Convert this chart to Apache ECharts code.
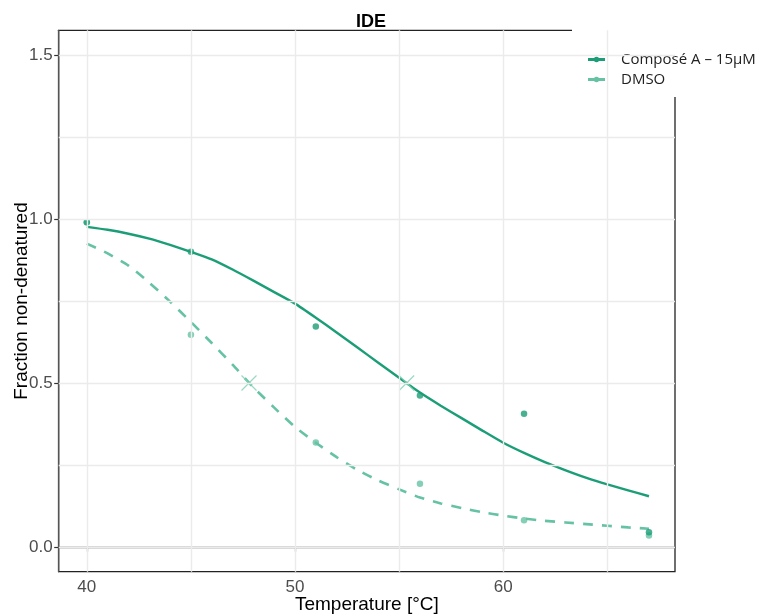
<!DOCTYPE html>
<html>
<head>
<meta charset="utf-8">
<script src="https://cdn.jsdelivr.net/npm/echarts@6/dist/echarts.min.js"></script>
<style>
html,body{margin:0;padding:0;background:#fff;}
#chart{width:759px;height:614px;}
</style>
</head>
<body>
<div id="chart"></div>
<script>
// Measured data points
const pointTemps = [40, 45, 51, 56, 61, 67];
const composeA = [0.99, 0.90, 0.672, 0.462, 0.406, 0.045];
const dmso = [0.99, 0.647, 0.319, 0.193, 0.082, 0.035];

// Fitted curves
const curveTemps = [40,41,42,43,44,45,46,47,48,49,50,51,52,53,54,55,56,57,58,59,60,61,62,63,64,65,66,67];
const composeCurve = [0.976,0.967,0.955,0.940,0.921,0.900,0.877,0.846,0.812,0.777,0.742,0.699,0.654,0.608,0.562,0.516,0.471,0.431,0.393,0.355,0.318,0.287,0.259,0.234,0.211,0.191,0.173,0.155];
const dmsoCurve = [0.925,0.895,0.858,0.806,0.748,0.686,0.622,0.556,0.487,0.425,0.366,0.318,0.274,0.235,0.203,0.176,0.151,0.133,0.119,0.106,0.096,0.087,0.080,0.075,0.070,0.065,0.060,0.056];

// Tm markers
const tmTemps = [55.36, 47.79];
const tmValues = [0.5, 0.5];

// Axis ticks
const xTicks = [40, 50, 60];
const xGrid = [40, 45, 50, 55, 60, 65];
const yTicks = [0, 0.5, 1.0, 1.5];
const yGrid = [0, 0.25, 0.5, 0.75, 1.0, 1.25, 1.5];

const seriesNames = ['Composé A – 15µM', 'DMSO'];
const darkGreen = '#1b9e77';
const lightGreen = '#66c2a5';

const zip = (xs, ys) => xs.map((x, i) => [x, ys[i]]);

const legendIcon = 'path://M0,3L17,3L17,6L0,6Z M8.5,1.8A2.7,2.7 0 1 1 8.49,1.8Z';

const chart = echarts.init(document.getElementById('chart'));
chart.setOption({
  animation: false,
  backgroundColor: '#fff',
  title: {
    text: 'IDE',
    left: 351, top: 8,
    textStyle: {fontFamily: 'Liberation Sans', fontWeight: 'bold', fontSize: 18, color: '#000'}
  },
  grid: {
    left: 58.7, right: 84, top: 30.3, bottom: 42.3,
    outerBoundsMode: 'none', containLabel: false,
    show: true, borderColor: '#222', borderWidth: 1.3, backgroundColor: '#fff'
  },
  legend: {
    data: seriesNames.map(n => ({name: n, icon: legendIcon})),
    orient: 'vertical',
    left: 583, top: 47,
    itemGap: 5, itemWidth: 17, itemHeight: 9,
    textStyle: {fontFamily: 'Open Sans', fontSize: 15, color: '#222', padding: [0, 0, 0, 11]}
  },
  xAxis: {
    type: 'value', min: 38.65, max: 68.25,
    name: 'Temperature [°C]', nameLocation: 'middle', nameGap: 24, nameMoveOverlap: false,
    nameTextStyle: {fontFamily: 'Liberation Sans', fontSize: 19, color: '#000'},
    axisLine: {show: true, lineStyle: {color: '#555', width: 1.3}},
    axisTick: {show: true, customValues: xTicks, length: 4.5, lineStyle: {color: '#333', width: 1.2}},
    axisLabel: {customValues: xTicks, margin: 7, fontFamily: 'Liberation Sans', fontSize: 17, color: '#4d4d4d'},
    splitLine: {show: false}
  },
  yAxis: {
    type: 'value', min: -0.075, max: 1.575,
    name: 'Fraction non-denatured', nameLocation: 'middle', nameGap: 27, nameMoveOverlap: false,
    nameTextStyle: {fontFamily: 'Liberation Sans', fontSize: 19, color: '#000'},
    axisLine: {show: true, lineStyle: {color: '#555', width: 1.3}},
    axisTick: {show: true, customValues: yTicks, length: 4.5, lineStyle: {color: '#333', width: 1.2}},
    axisLabel: {customValues: yTicks, margin: 6, fontFamily: 'Liberation Sans', fontSize: 17, color: '#4d4d4d',
      formatter: v => v.toFixed(1)},
    splitLine: {show: false}
  },
  graphic: [{
    type: 'rect', left: 572, top: 0, z: 3,
    shape: {width: 187, height: 97},
    style: {fill: '#fff'}
  }],
  series: [
    {
      name: 'grid', type: 'line', data: [], z: 1, silent: true,
      markLine: {
        silent: true, symbol: ['none', 'none'], label: {show: false},
        lineStyle: {color: '#ebebeb', type: 'solid', width: 1.4},
        data: xGrid.map(v => ({xAxis: v})).concat(yGrid.map(v => ({yAxis: v})))
      }
    },
    {
      name: seriesNames[1], type: 'line', data: zip(curveTemps, dmsoCurve),
      smooth: 0.2, symbol: 'none',
      lineStyle: {color: lightGreen, width: 2.6, type: [10, 9]},
      itemStyle: {color: lightGreen}, z: 2
    },
    {
      name: seriesNames[0], type: 'line', data: zip(curveTemps, composeCurve),
      smooth: 0.2, symbol: 'none',
      lineStyle: {color: darkGreen, width: 2.4},
      itemStyle: {color: darkGreen}, z: 2
    },
    {
      name: 'dmsoPts', type: 'scatter', data: zip(pointTemps, dmso),
      symbol: 'circle', symbolSize: 6.5, itemStyle: {color: lightGreen}, z: 2
    },
    {
      name: 'composePts', type: 'scatter', data: zip(pointTemps, composeA),
      symbol: 'circle', symbolSize: 6.5, itemStyle: {color: darkGreen}, z: 2
    },
    {
      name: 'tm', type: 'scatter', data: zip(tmTemps, tmValues),
      symbol: 'path://M0,0L10,10M10,0L0,10', symbolSize: 15,
      itemStyle: {color: 'none', borderColor: '#7fcfb4', borderWidth: 1.2}, z: 2
    }
  ]
});
</script>
</body>
</html>
